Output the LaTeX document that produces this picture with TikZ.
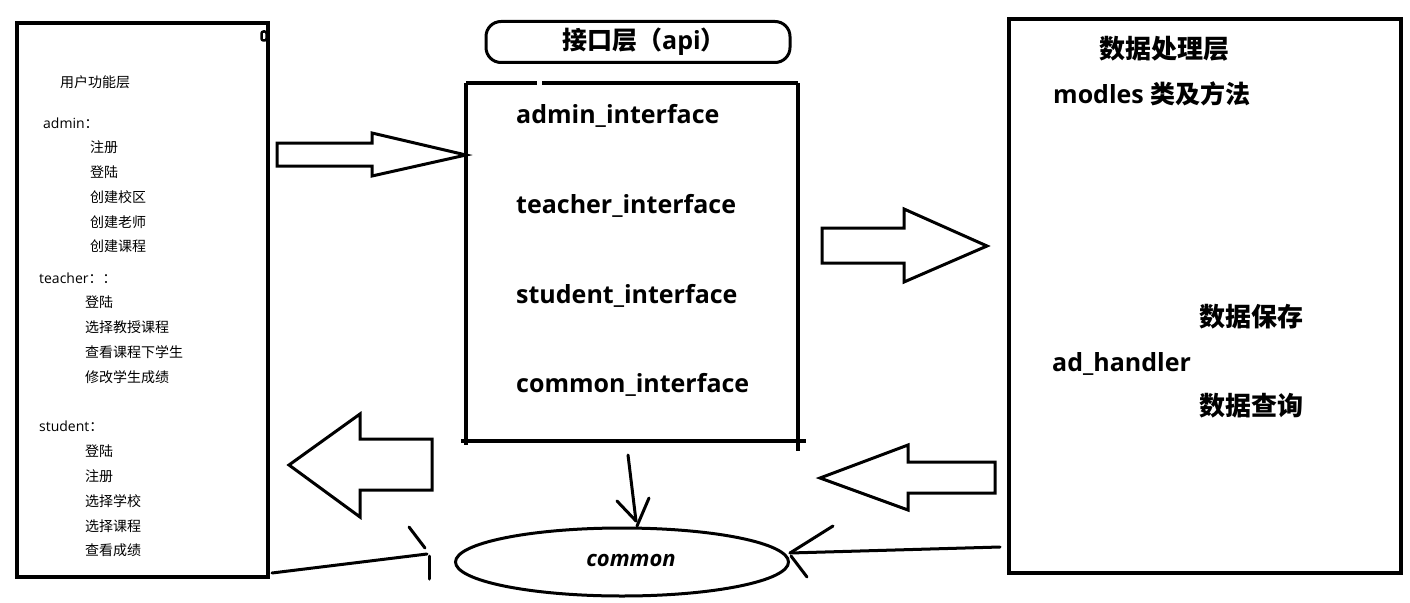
\documentclass[tikz,border=0pt]{standalone}
\usepackage{fontspec}
\setmainfont{Open Sans}
\newfontfamily\cjk{Noto Sans CJK SC}
\usetikzlibrary{shapes.geometric}
\begin{document}
\begin{tikzpicture}[x=1pt,y=-1pt,
  sm/.style={anchor=base west, inner sep=0pt, font=\fontsize{14}{17}\selectfont},
  smz/.style={anchor=base west, inner sep=0pt, font=\fontsize{14}{17}\selectfont\cjk},
  bg/.style={anchor=base west, inner sep=0pt, font=\fontsize{25}{29}\selectfont\bfseries},
  bgz/.style={anchor=base west, inner sep=0pt, font=\fontsize{26}{29}\selectfont\cjk\bfseries},
  frame/.style={line width=3.2pt},
  blk/.style={line width=3pt, line join=miter},
  conn/.style={line width=3pt, line cap=round}]
\fill[white] (0,0) rectangle (1410,602);
\useasboundingbox (0,0) rectangle (1410,602);

% ---------- left box ----------
\draw[frame] (17,23) rectangle (268,577);
\draw[line width=2.5pt, rounded corners=2pt] (261.5,31.5) rectangle (266.5,40.5);
\node[smz] (lt) at (60,87) {用户功能层};
\node[sm] (ladmin) at (43,128) {admin{\cjk ：}};
\node[smz] (a1) at (90,152) {注册};
\node[smz] (a2) at (90,177) {登陆};
\node[smz] (a3) at (90,202) {创建校区};
\node[smz] (a4) at (90,227) {创建老师};
\node[smz] (a5) at (90,251) {创建课程};
\node[sm] (lteach) at (39,283) {teacher{\cjk ：：}};
\node[smz] (t1) at (85,307) {登陆};
\node[smz] (t2) at (85,332) {选择教授课程};
\node[smz] (t3) at (85,357) {查看课程下学生};
\node[smz] (t4) at (85,382) {修改学生成绩};
\node[sm] (lstud) at (39,431) {student{\cjk ：}};
\node[smz] (s1) at (85,456) {登陆};
\node[smz] (s2) at (85,481) {注册};
\node[smz] (s3) at (85,506) {选择学校};
\node[smz] (s4) at (85,531) {选择课程};
\node[smz] (s5) at (85,555) {查看成绩};

% ---------- api title ----------
\node[draw, line width=3pt, rounded corners=15pt, minimum width=304pt, minimum height=41pt,
      inner sep=0pt, font=\fontsize{25}{29}\selectfont\bfseries] (api) at (638,42)
      {\hspace*{12pt}{\cjk 接口层（}api{\cjk ）}};

% ---------- middle box ----------
\draw[frame] (466,83) -- (537,83);
\draw[frame] (542,83) -- (798,83);
\draw[frame] (466,83) -- (466,445);
\draw[frame] (798,83) -- (798,451);
\draw[frame] (461,441) -- (806,441);
\node[bg] (i1) at (516,123) {admin\_interface};
\node[bg] (i2) at (516,213) {teacher\_interface};
\node[bg] (i3) at (516,303) {student\_interface};
\node[bg] (i4) at (516,392) {common\_interface};

% ---------- right box ----------
\draw[frame] (1009,19) rectangle (1401,573);
\node[bgz] (r1) at (1099,59) {数据处理层};
\node[bg] (r2) at (1053,103) {modles {\cjk 类及方法}};
\node[bgz] (r3) at (1199,326) {数据保存};
\node[bg] (r4) at (1052,371) {ad\_handler};
\node[bgz] (r5) at (1199,415) {数据查询};

% ---------- block arrows ----------
\draw[blk] (277,143) -- (372,143) -- (372,133) -- (466,155) -- (372,176) -- (372,166) -- (277,166) -- cycle;
\draw[blk] (822,228) -- (904,228) -- (904,209) -- (987,246) -- (904,282) -- (904,263) -- (822,263) -- cycle;
\draw[blk] (432,439) -- (360,439) -- (360,414) -- (289,465) -- (360,517) -- (360,490) -- (432,490) -- cycle;
\draw[blk] (995,462) -- (908,462) -- (908,445) -- (820,478) -- (908,510) -- (908,493) -- (995,493) -- cycle;

% ---------- common ----------
\node[draw, ellipse, line width=3pt, minimum width=333pt, minimum height=68pt, inner sep=0pt] (commonel) at (622,562) {};
\node[inner sep=0pt, font=\fontsize{22}{26}\selectfont\bfseries\itshape] (ctxt) at (631,560) {common};

% connectors to common
\coordinate (mdown) at (628,455);
\coordinate (ctop) at (637,526);
\draw[conn] (mdown) -- (636,521);
\draw[conn] (617,501) -- (636,521);
\draw[conn] (649,498) -- (ctop);

\coordinate (rfrom) at (1000,547);
\coordinate (rtip) at (790,553);
\draw[conn] (rfrom) -- (rtip);
\draw[conn] (833,526) -- (rtip);
\draw[conn] (807,577) -- (791,556);

\coordinate (lfrom) at (272,573);
\coordinate (lto) at (427,554);
\draw[conn] (lfrom) -- (lto);
\draw[conn] (409,527) -- (425,548);
\draw[conn] (429,556) -- (429,579);
\end{tikzpicture}
\end{document}
